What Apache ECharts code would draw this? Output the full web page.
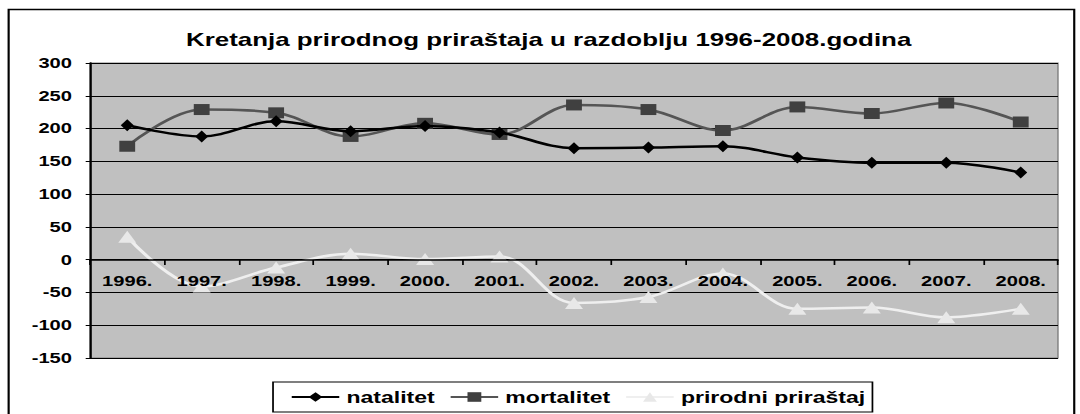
<!DOCTYPE html>
<html><head><meta charset="utf-8">
<script src="https://cdn.jsdelivr.net/npm/echarts@6/dist/echarts.min.js"></script>
<style>
html,body{margin:0;padding:0;background:#fff;overflow:hidden}
#wrap{width:1080px;height:414px;overflow:hidden}
#c{width:750px;height:414px;transform:scaleX(1.44);transform-origin:0 0}
</style>
</head><body><div id="wrap"><div id="c"></div></div>
<script>
const categories = ['1996.','1997.','1998.','1999.','2000.','2001.','2002.','2003.','2004.','2005.','2006.','2007.','2008.'];
const natalitet = [205, 188, 211, 196, 204, 194, 170, 171, 173, 156, 148, 148, 133];
const mortalitet = [173, 229, 224, 188, 208, 191, 236, 229, 197, 233, 223, 239, 210];
const prirodni = [35, -41, -12, 9, 1, 5, -66, -57, -21, -75, -73, -88, -75];
const yTicks = {min: -150, max: 300, interval: 50};

const F = 'Liberation Sans, Arial, sans-serif';
const chart = echarts.init(document.getElementById('c'), null, {renderer: 'svg'});
chart.setOption({
  animation: false,
  backgroundColor: '#fff',
  graphic: [{type: 'rect', shape: {x: 6, y: 9.5, width: 740, height: 420}, style: {fill: 'none', stroke: '#000', lineWidth: 1.5}, z: 100}],
  title: {text: 'Kretanja prirodnog priraštaja u razdoblju 1996-2008.godina', left: 376, textAlign: 'center', top: 26,
    textStyle: {fontFamily: F, fontWeight: 'bold', fontSize: 18, color: '#000'}},
  grid: {left: 62.5, right: 15.3, top: 63, bottom: 56, show: true, backgroundColor: '#c0c0c0', borderColor: '#808080', borderWidth: 1},
  legend: {bottom: 2, left: 189.6, itemWidth: 33, itemHeight: 12, itemGap: 10, borderColor: '#000', borderWidth: 1.2,
    padding: [7, 5, 7, 12], textStyle: {fontFamily: F, fontWeight: 'bold', fontSize: 16, color: '#000'},
    data: ['natalitet', 'mortalitet', 'prirodni priraštaj']},
  xAxis: {type: 'category', data: categories, boundaryGap: true, offset: -98, z: 10,
    axisLine: {onZero: false, lineStyle: {color: '#000', width: 1.5}},
    axisTick: {show: true, length: 5, lineStyle: {color: '#000', width: 1.2}},
    axisLabel: {fontFamily: F, fontWeight: 'bold', fontSize: 14, color: '#000', margin: 14, interval: 0}},
  yAxis: {type: 'value', min: yTicks.min, max: yTicks.max, interval: yTicks.interval,
    axisLine: {show: true, lineStyle: {color: '#000', width: 1.5}},
    axisTick: {show: true, length: 3, lineStyle: {color: '#000'}},
    axisLabel: {fontFamily: F, fontWeight: 'bold', fontSize: 14, color: '#000', margin: 12.5},
    splitLine: {lineStyle: {color: '#000', width: 1}}},
  series: [
    {name: 'natalitet', type: 'line', data: natalitet, smooth: 0.35, symbol: 'diamond', symbolSize: [9, 12],
      lineStyle: {color: '#000', width: 2.5}, itemStyle: {color: '#000'}, z: 3},
    {name: 'mortalitet', type: 'line', data: mortalitet, smooth: 0.35, symbol: 'rect', symbolSize: [11, 11],
      lineStyle: {color: '#555', width: 2.5}, itemStyle: {color: '#404040'}, z: 2},
    {name: 'prirodni priraštaj', type: 'line', data: prirodni, smooth: 0.35, symbol: 'triangle', symbolSize: [12.5, 12],
      lineStyle: {color: '#efefef', width: 2.5}, itemStyle: {color: '#e8e8e8'}, z: 4}
  ]
});
</script></body></html>
